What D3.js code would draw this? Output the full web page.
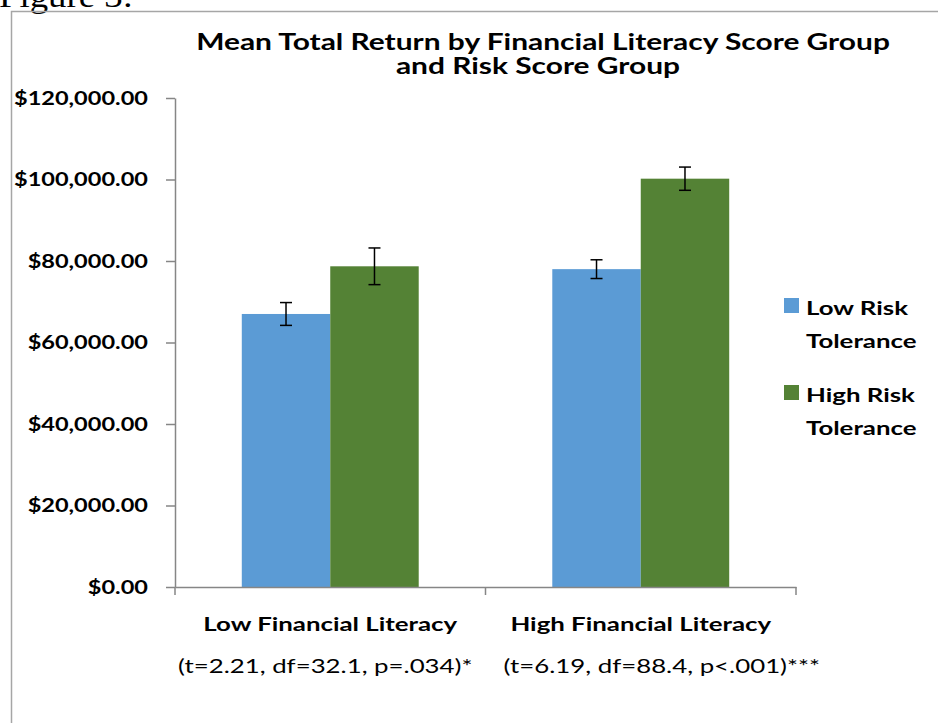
<!DOCTYPE html>
<html>
<head>
<meta charset="utf-8">
<script src="https://cdn.jsdelivr.net/npm/d3@7"></script>
<style>
  body { margin: 0; background: #fff; }
  svg { display: block; }
</style>
</head>
<body>
<div id="chart"></div>
<script>
// data
var categories = ["Low Financial Literacy", "High Financial Literacy"];
var statLabels = ["(t=2.21, df=32.1, p=.034)*", "(t=6.19, df=88.4, p<.001)***"];
var seriesNames = ["Low Risk Tolerance", "High Risk Tolerance"];
var lowRiskMeans = [67000, 78000];
var highRiskMeans = [78700, 100200];
var lowRiskErr = [2800, 2300];
var highRiskErr = [4500, 2850];
var yTicks = [0, 20000, 40000, 60000, 80000, 100000, 120000];

var width = 938, height = 723;
var margin = {top: 98, left: 175, right: 142, bottom: 136};
var font = "Lato, 'Open Sans', sans-serif";
var colors = ["#5B9BD5", "#548235"];
var axisColor = "#868686";
// the original figure is stretched sideways, so the text is too
var textSx = 1.36, tickSx = 1.24;

// flat table built from the arrays
var rows = [];
categories.forEach(function(c, i) {
    rows.push({cat: c, series: seriesNames[0], value: lowRiskMeans[i], err: lowRiskErr[i]});
    rows.push({cat: c, series: seriesNames[1], value: highRiskMeans[i], err: highRiskErr[i]});
});

// put a text at (x, y) and widen it
function place(x, y, sx) {
    return "translate(" + x + "," + y + ") scale(" + sx + ",1)";
}

var svg = d3.select("#chart")
    .append("svg")
    .attr("width", width)
    .attr("height", height);

// page caption, mostly cut off at the top
svg.append("text")
    .attr("transform", place(-1, 7, 1.15))
    .style("font-family", "'Liberation Serif', 'Times New Roman', serif")
    .style("font-size", "32px")
    .text("Figure 3:");

// chart frame (only the top and left edges are in view)
svg.append("path")
    .attr("d", "M11.5," + height + "V11.5H" + width)
    .attr("fill", "none")
    .attr("stroke", "#a6a6a6")
    .attr("stroke-width", 1.5);

var plotW = width - margin.left - margin.right;
var plotH = height - margin.top - margin.bottom;

var g = svg.append("g")
    .attr("transform", "translate(" + margin.left + "," + margin.top + ")");

// scales
var x0 = d3.scaleBand()
    .domain(categories)
    .range([0, plotW])
    .padding(0);

var x1 = d3.scaleBand()
    .domain(seriesNames)
    .range([0, x0.bandwidth()])
    .paddingOuter(0.755)
    .paddingInner(0);

var y = d3.scaleLinear()
    .domain([0, 120000])
    .range([plotH, 0]);

var color = d3.scaleOrdinal()
    .domain(seriesNames)
    .range(colors);

// y axis
var yAxis = g.append("g")
    .call(d3.axisLeft(y)
        .tickValues(yTicks)
        .tickSize(9)
        .tickSizeOuter(0)
        .tickPadding(18)
        .tickFormat(d3.format("$,.2f")));
yAxis.select(".domain").attr("stroke", axisColor).attr("stroke-width", 1.5);
yAxis.selectAll(".tick line").attr("stroke", axisColor).attr("stroke-width", 1.5);
yAxis.selectAll(".tick text")
    .attr("fill", "#000")
    .attr("x", -27 / tickSx)
    .attr("transform", "scale(" + tickSx + ",1)")
    .style("font-family", font)
    .style("font-weight", "bold")
    .style("font-size", "19px");

// bars
g.append("g")
    .selectAll("rect")
    .data(rows)
    .enter()
    .append("rect")
    .attr("x", function(d) { return x0(d.cat) + x1(d.series); })
    .attr("y", function(d) { return y(d.value); })
    .attr("width", x1.bandwidth())
    .attr("height", function(d) { return plotH - y(d.value); })
    .attr("fill", function(d) { return color(d.series); });

// error bars
var eb = g.append("g")
    .selectAll("g")
    .data(rows)
    .enter()
    .append("g")
    .attr("stroke", "#000")
    .attr("stroke-width", 1.5);
var cx = function(d) { return x0(d.cat) + x1(d.series) + x1.bandwidth() / 2; };
eb.append("line")
    .attr("x1", cx).attr("x2", cx)
    .attr("y1", function(d) { return y(d.value + d.err); })
    .attr("y2", function(d) { return y(d.value - d.err); });
eb.append("line")
    .attr("x1", function(d) { return cx(d) - 6; })
    .attr("x2", function(d) { return cx(d) + 6; })
    .attr("y1", function(d) { return y(d.value + d.err); })
    .attr("y2", function(d) { return y(d.value + d.err); });
eb.append("line")
    .attr("x1", function(d) { return cx(d) - 6; })
    .attr("x2", function(d) { return cx(d) + 6; })
    .attr("y1", function(d) { return y(d.value - d.err); })
    .attr("y2", function(d) { return y(d.value - d.err); });

// x axis line, with the tick marks on the category boundaries
g.append("g")
    .attr("transform", "translate(0," + plotH + ")")
    .call(d3.axisBottom(x0).tickSize(0).tickFormat(""))
    .select(".domain")
    .attr("stroke", axisColor)
    .attr("stroke-width", 1.5);

var bounds = categories.map(function(c) { return x0(c); }).concat([plotW]);
g.append("g")
    .selectAll("line")
    .data(bounds)
    .enter()
    .append("line")
    .attr("x1", function(d) { return d; })
    .attr("x2", function(d) { return d; })
    .attr("y1", plotH)
    .attr("y2", plotH + 8)
    .attr("stroke", axisColor)
    .attr("stroke-width", 1.5);

// category labels
g.append("g")
    .selectAll("text")
    .data(categories)
    .enter()
    .append("text")
    .attr("transform", function(d) { return place(x0(d) + x0.bandwidth() / 2, plotH + 44, textSx); })
    .attr("text-anchor", "middle")
    .style("font-family", font)
    .style("font-weight", "bold")
    .style("font-size", "19px")
    .text(function(d) { return d; });

// t-test lines under each category
var statShift = [-5, 21];
g.append("g")
    .selectAll("text")
    .data(statLabels)
    .enter()
    .append("text")
    .attr("transform", function(d, i) {
        return place(x0(categories[i]) + x0.bandwidth() / 2 + statShift[i], plotH + 86, textSx);
    })
    .attr("text-anchor", "middle")
    .style("font-family", font)
    .style("font-size", "19px")
    .text(function(d) { return d; });

// title
svg.append("text")
    .attr("transform", place(543, 50, textSx))
    .attr("text-anchor", "middle")
    .style("font-family", font)
    .style("font-weight", "bold")
    .style("font-size", "22px")
    .text("Mean Total Return by Financial Literacy Score Group");
svg.append("text")
    .attr("transform", place(538, 74, textSx))
    .attr("text-anchor", "middle")
    .style("font-family", font)
    .style("font-weight", "bold")
    .style("font-size", "22px")
    .text("and Risk Score Group");

// legend
var legend = svg.append("g")
    .attr("transform", "translate(784,298)");
var li = legend.selectAll("g")
    .data(seriesNames)
    .enter()
    .append("g")
    .attr("transform", function(d, i) { return "translate(0," + i * 87 + ")"; });
li.append("rect")
    .attr("width", 15)
    .attr("height", 15)
    .attr("fill", function(d) { return color(d); });
li.append("text")
    .attr("transform", place(22, 17, textSx))
    .style("font-family", font)
    .style("font-weight", "bold")
    .style("font-size", "19px")
    .text(function(d) { return d.replace(" Tolerance", ""); });
li.append("text")
    .attr("transform", place(22, 50, textSx))
    .style("font-family", font)
    .style("font-weight", "bold")
    .style("font-size", "19px")
    .text("Tolerance");
</script>
</body>
</html>
